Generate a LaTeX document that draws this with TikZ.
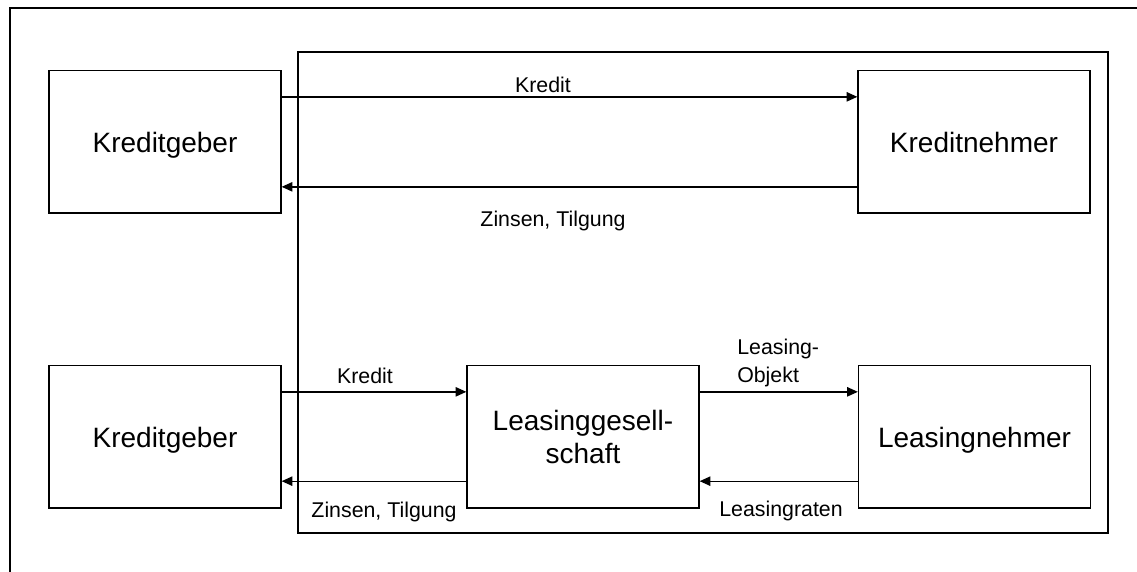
\documentclass[tikz,border=0pt]{standalone}
\usepackage{fontspec}
\setmainfont{Liberation Sans}
\usetikzlibrary{arrows.meta}
\begin{document}
\begin{tikzpicture}[x=0.75pt,y=-0.75pt,
  box/.style={draw=black,line width=1pt,minimum width=174pt,minimum height=107pt,inner sep=0pt,align=center,font=\fontsize{21}{24.75}\selectfont},
  onebox/.style={box,text height=20pt,text depth=3.5pt},
  lbl/.style={inner sep=0pt,anchor=base,align=left,font=\fontsize{16}{21}\selectfont},
  arr/.style={draw=black,line width=1pt,-{Triangle[length=8pt,width=7pt]}},
  frame/.style={draw=black,line width=1pt}]
\useasboundingbox (0,0) rectangle (1137,571);
% outer frame (cut off at right and bottom)
\draw[frame,line width=1.4pt] (10,620) -- (10,8) -- (1200,8);
% inner frame
\draw[frame] (298,52) rectangle (1108,533);
% boxes
\node[onebox] (kg1) at (165,141.5) {Kreditgeber};
\node[onebox] (kn)  at (974,141.5) {Kreditnehmer};
\node[onebox] (kg2) at (165,436.5) {Kreditgeber};
\node[box]    (lg)  at (583,436.5) {Leasinggesell-\\schaft};
\node[onebox] (ln)  at (974.5,436.5) {Leasingnehmer};
% connectors
\draw[arr] ([yshift=33.5pt]kg1.east) -- ([yshift=33.5pt]kn.west);
\draw[arr] ([yshift=-34pt]kn.west) -- ([yshift=-34pt]kg1.east);
\draw[arr] ([yshift=33.5pt]kg2.east) -- ([yshift=33.5pt]lg.west);
\draw[arr] ([yshift=-33.5pt]lg.west) -- ([yshift=-33.5pt]kg2.east);
\draw[arr] ([yshift=33.5pt]lg.east) -- ([yshift=33.5pt]ln.west);
\draw[arr] ([yshift=-33.5pt]ln.west) -- ([yshift=-33.5pt]lg.east);
% labels
\node[lbl] (l1) at (543,92) {Kredit};
\node[lbl] (l2) at (553,226) {Zinsen, Tilgung};
\node[lbl] (l3) at (365,383) {Kredit};
\node[lbl] (l4) at (384,517) {Zinsen, Tilgung};
\node[lbl,anchor=base west] (l5) at (737,382) {Leasing-\\Objekt};
\node[lbl] (l6) at (781,516) {Leasingraten};
\end{tikzpicture}
\end{document}
